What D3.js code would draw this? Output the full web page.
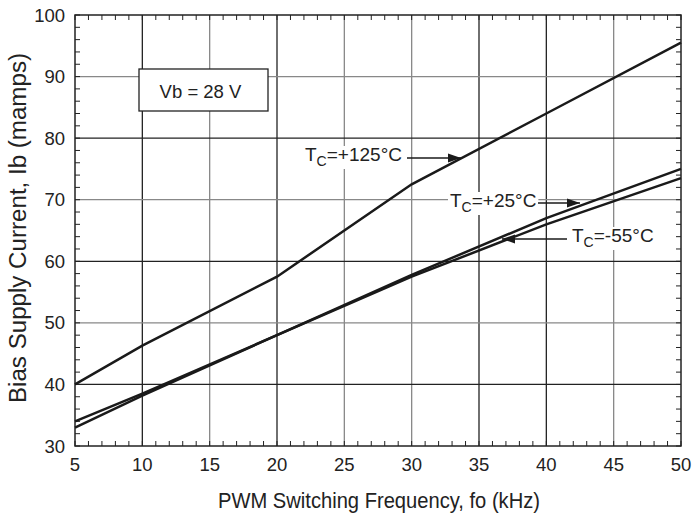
<!DOCTYPE html>
<html><head><meta charset="utf-8">
<script src="https://cdn.jsdelivr.net/npm/d3@7"></script>
<style>body{margin:0;background:#fff}svg{display:block;font-family:"Liberation Sans",Arial,sans-serif}</style>
</head><body><svg id="c" width="694" height="518"></svg>
<script>
const freq = [5, 10, 20, 30, 40, 50];
const tc125 = [40, 46.3, 57.5, 72.5, 84, 95.5];
const tc25 = [33, 38.2, 48, 57.8, 67, 75];
const tcm55 = [34, 38.5, 48, 57.5, 66, 73.5];
const xTicks = [5, 10, 15, 20, 25, 30, 35, 40, 45, 50];
const yTicks = [30, 40, 50, 60, 70, 80, 90, 100];
const xGray = [15, 25, 30, 45];
const yGray = [90, 70, 50];

const svg = d3.select("#c");
const L = 75, R = 681, T = 15, B = 446;
const x = d3.scaleLinear().domain([5, 50]).range([L, R]);
const y = d3.scaleLinear().domain([30, 100]).range([B, T]);

// grid
xTicks.slice(1, -1).forEach(v => svg.append("line").attr("x1", x(v)).attr("x2", x(v)).attr("y1", T).attr("y2", B)
  .attr("stroke", xGray.includes(v) ? "#888" : "#222").attr("stroke-width", 1.3));
yTicks.slice(1, -1).forEach(v => svg.append("line").attr("x1", L).attr("x2", R).attr("y1", y(v)).attr("y2", y(v))
  .attr("stroke", yGray.includes(v) ? "#888" : "#222").attr("stroke-width", 1.3));

// minor ticks
const xm = d3.range(5, 51, 1), ym = d3.range(30, 101, 2);
xm.forEach(v => {
  svg.append("line").attr("x1", x(v)).attr("x2", x(v)).attr("y1", B).attr("y2", B - 5).attr("stroke", "#222");
  svg.append("line").attr("x1", x(v)).attr("x2", x(v)).attr("y1", T).attr("y2", T + 5).attr("stroke", "#222");
});
ym.forEach(v => {
  svg.append("line").attr("x1", L).attr("x2", L + 5).attr("y1", y(v)).attr("y2", y(v)).attr("stroke", "#222");
  svg.append("line").attr("x1", R).attr("x2", R - 5).attr("y1", y(v)).attr("y2", y(v)).attr("stroke", "#222");
});

// frame
svg.append("rect").attr("x", L).attr("y", T).attr("width", R - L).attr("height", B - T)
  .attr("fill", "none").attr("stroke", "#222").attr("stroke-width", 1.5);

// tick labels
svg.selectAll(".xl").data(xTicks).enter().append("text").attr("x", d => x(d)).attr("y", 471)
  .attr("text-anchor", "middle").attr("font-size", 18.5).attr("fill", "#222").text(d => d);
svg.selectAll(".yl").data(yTicks).enter().append("text").attr("x", L - 10).attr("y", d => y(d) + 6.5)
  .attr("text-anchor", "end").attr("font-size", 18.5).attr("fill", "#222").text(d => d);

// titles
svg.append("text").attr("x", 379).attr("y", 508).attr("text-anchor", "middle")
  .attr("font-size", 22.5).attr("textLength", 322).attr("lengthAdjust", "spacingAndGlyphs")
  .attr("fill", "#222").text("PWM Switching Frequency, fo (kHz)");
svg.append("text").attr("transform", `translate(26,228) rotate(-90)`).attr("text-anchor", "middle")
  .attr("font-size", 23).attr("textLength", 350).attr("lengthAdjust", "spacingAndGlyphs")
  .attr("fill", "#222").text("Bias Supply Current, Ib (mamps)");

// lines
const line = d3.line().x((d, i) => x(freq[i])).y(d => y(d));
[tc125, tc25, tcm55].forEach(s => svg.append("path").attr("d", line(s)).attr("fill", "none")
  .attr("stroke", "#1a1a1a").attr("stroke-width", 2.5));

// Vb box
svg.append("rect").attr("x", 139).attr("y", 69).attr("width", 129).attr("height", 42)
  .attr("fill", "#fff").attr("stroke", "#222").attr("stroke-width", 1.3);
svg.append("text").attr("x", 200.5).attr("y", 97.5).attr("text-anchor", "middle").attr("font-size", 18.5)
  .attr("fill", "#222").text("Vb = 28 V");

// arrow labels
function label(tx, ty, ay, tail, head, txt) {
  const t = svg.append("text").attr("x", tx).attr("y", ty).attr("font-size", 19).attr("fill", "#222");
  t.append("tspan").text("T");
  t.append("tspan").attr("font-size", 14).attr("dy", 5).text("C");
  t.append("tspan").attr("dy", -5).text(txt);
  const bb = t.node().getBBox();
  svg.insert("rect", "text").attr("x", bb.x - 2).attr("y", bb.y + 2).attr("width", bb.width + 4).attr("height", bb.height - 2).attr("fill", "#fff");
  svg.append("line").attr("x1", tail).attr("x2", head).attr("y1", ay).attr("y2", ay).attr("stroke", "#1a1a1a").attr("stroke-width", 1.6);
  const d = head > tail ? 1 : -1;
  svg.append("path").attr("d", `M${head},${ay} L${head - d * 13},${ay - 4.5} L${head - d * 13},${ay + 4.5}Z`).attr("fill", "#1a1a1a");
}
label(305, 161, 158, 407, 461, "=+125°C");
label(450, 207, 203, 538, 580, "=+25°C");
label(572, 242, 239, 567, 502, "=-55°C");
</script></body></html>
